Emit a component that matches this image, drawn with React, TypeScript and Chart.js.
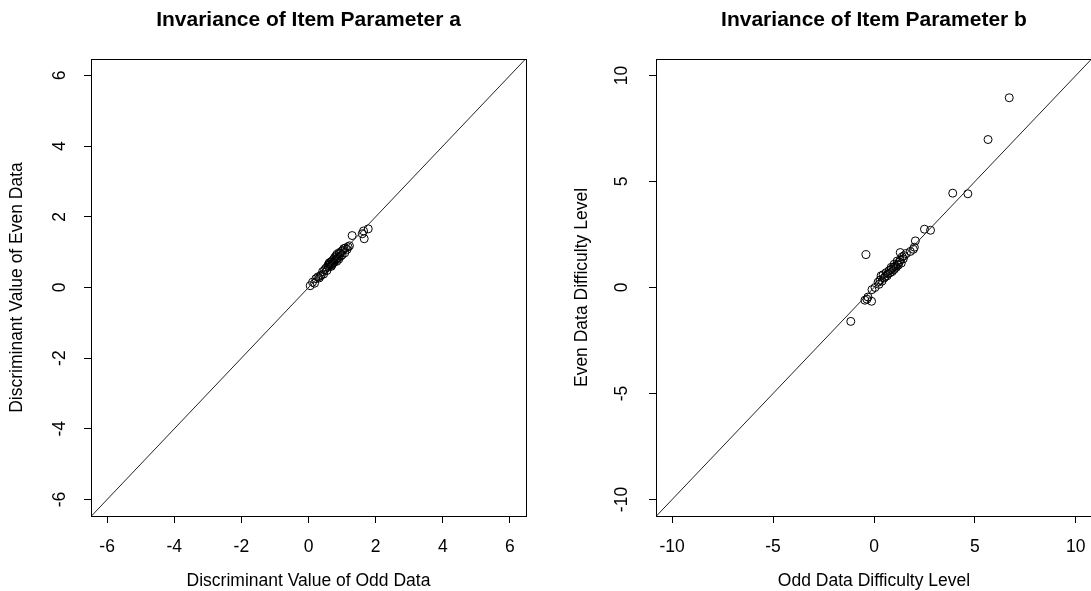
import React, { useEffect, useRef } from "react";
import { Chart, registerables } from "chart.js";

Chart.register(...registerables);

// Item discrimination (a) estimated on odd vs even halves of the sample
const oddA = [
  0.05, 0.12, 0.18, 0.22, 0.28, 0.32, 0.35, 0.38, 0.42, 0.45, 0.48, 0.52, 0.55, 0.58, 0.6, 0.6,
  0.62, 0.65, 0.66, 0.68, 0.7, 0.7, 0.72, 0.74, 0.75, 0.76, 0.78, 0.8, 0.82, 0.84, 0.84, 0.86,
  0.88, 0.9, 0.92, 0.94, 0.95, 0.98, 1.0, 1.02, 1.05, 1.08, 1.1, 1.15, 1.18, 1.22, 1.3, 1.6,
  1.64, 1.66, 1.78,
];
const evenA = [
  0.05, 0.15, 0.12, 0.25, 0.3, 0.27, 0.32, 0.35, 0.45, 0.38, 0.5, 0.55, 0.48, 0.62, 0.58, 0.66,
  0.7, 0.65, 0.72, 0.6, 0.75, 0.64, 0.68, 0.7, 0.8, 0.72, 0.85, 0.78, 0.9, 0.74, 0.82, 0.95,
  0.85, 0.8, 0.98, 0.96, 0.88, 1.02, 0.92, 1.05, 1.1, 0.98, 1.12, 1.08, 1.15, 1.18, 1.47, 1.52,
  1.6, 1.38, 1.66,
];

// Item difficulty (b) estimated on odd vs even halves of the sample
const oddB = [
  -1.15, -0.4, -0.45, -0.3, -0.12, -0.35, -0.1, 0.05, 0.2, 0.25, 0.3, 0.35, 0.4, 0.45, 0.5, 0.55,
  0.6, 0.65, 0.7, 0.75, 0.8, 0.85, 0.85, 0.9, 0.95, 1.0, 1.0, 1.05, 1.1, 1.15, 1.15, 1.2, 1.25,
  1.3, 1.35, 1.3, 1.4, 1.45, 1.5, 1.6, 1.8, 1.95, 2.0, 2.05, 2.5, 2.8, 3.9, 4.65, 5.65, 6.7,
];
const evenB = [
  -1.6, 1.55, -0.6, -0.45, -0.65, -0.55, -0.1, 0.0, 0.25, 0.15, 0.35, 0.55, 0.3, 0.6, 0.45, 0.5,
  0.7, 0.55, 0.65, 0.8, 0.7, 0.85, 0.95, 0.75, 0.95, 0.85, 1.1, 1.0, 0.95, 1.1, 1.25, 1.05, 1.2,
  1.3, 1.15, 1.65, 1.45, 1.35, 1.5, 1.6, 1.7, 1.8, 1.9, 2.2, 2.75, 2.7, 4.45, 4.42, 6.98, 8.95,
];

const ticksA = [-6, -4, -2, 0, 2, 4, 6];
const ticksB = [-10, -5, 0, 5, 10];

const FONT = "'Liberation Sans', Arial, Helvetica, sans-serif";

type PanelProps = {
  title: string;
  xTitle: string;
  yTitle: string;
  xs: number[];
  ys: number[];
  ticks: number[];
  limit: number;
  left: number;
  width: number;
  padRight: number;
  yTickPad: number;
};

// Frame around the plotting region plus a bold main title centred over it
const framePlugin = {
  id: "frameAndTitle",
  afterDatasetsDraw(chart: any, _args: any, opts: any) {
    const { ctx, chartArea } = chart;
    const l = Math.round(chartArea.left) + 0.5;
    const t = Math.round(chartArea.top) + 0.5;
    const r = Math.round(chartArea.right) + 0.5;
    const b = Math.round(chartArea.bottom) + 0.5;
    ctx.save();
    ctx.strokeStyle = "#000";
    ctx.lineWidth = 1;
    ctx.strokeRect(l, t, r - l, b - t);
    ctx.fillStyle = "#000";
    ctx.font = `bold 21px ${FONT}`;
    ctx.textAlign = "center";
    ctx.textBaseline = "middle";
    ctx.fillText(opts.text, (chartArea.left + chartArea.right) / 2, 20);
    ctx.restore();
  },
};

function Panel(p: PanelProps) {
  const ref = useRef<HTMLCanvasElement | null>(null);

  useEffect(() => {
    if (!ref.current) return;
    const points = p.xs.map((x, i) => ({ x, y: p.ys[i] }));
    const setTicks = (scale: any) => {
      scale.ticks = p.ticks.map((v) => ({ value: v }));
    };
    const tickFont = { family: FONT, size: 17.5 };
    const chart = new Chart(ref.current, {
      type: "scatter",
      data: {
        datasets: [
          {
            type: "line",
            data: [
              { x: -30, y: -30 },
              { x: 30, y: 30 },
            ],
            borderColor: "#222",
            borderWidth: 1,
            pointRadius: 0,
            fill: false,
          },
          {
            data: points,
            pointStyle: "circle",
            pointRadius: 4,
            pointBorderWidth: 1,
            borderColor: "#000",
            backgroundColor: "rgba(0,0,0,0)",
          },
        ],
      } as any,
      plugins: [framePlugin],
      options: {
        animation: false,
        responsive: false,
        devicePixelRatio: 1,
        layout: { padding: { top: 59, right: p.padRight, bottom: 0, left: 0 } },
        plugins: {
          legend: { display: false },
          tooltip: { enabled: false },
          frameAndTitle: { text: p.title },
        } as any,
        scales: {
          x: {
            type: "linear",
            min: -p.limit,
            max: p.limit,
            afterBuildTicks: setTicks,
            afterFit: (scale: any) => {
              scale.height = 75;
            },
            grid: {
              display: true,
              drawOnChartArea: false,
              drawTicks: true,
              tickLength: 7,
              color: "#000",
            },
            border: { display: false },
            ticks: {
              autoSkip: false,
              color: "#000",
              font: tickFont,
              padding: 13.5,
              maxRotation: 0,
              minRotation: 0,
            },
            title: {
              display: true,
              text: p.xTitle,
              color: "#000",
              font: { family: FONT, size: 17.5, lineHeight: 1 },
              padding: { top: 0, bottom: 1.5 },
            },
          },
          y: {
            type: "linear",
            min: -p.limit * 0.998,
            max: p.limit * 0.998,
            afterBuildTicks: setTicks,
            afterFit: (scale: any) => {
              scale.width = 91;
            },
            grid: {
              display: true,
              drawOnChartArea: false,
              drawTicks: true,
              tickLength: 7,
              color: "#000",
            },
            border: { display: false },
            ticks: {
              autoSkip: false,
              color: "#000",
              font: tickFont,
              padding: p.yTickPad,
              crossAlign: "center",
              minRotation: 90,
              maxRotation: 90,
            },
            title: {
              display: true,
              text: p.yTitle,
              color: "#000",
              font: { family: FONT, size: 17.5, lineHeight: 1 },
              padding: { top: 8, bottom: 0 },
            },
          },
        },
      } as any,
    });
    return () => chart.destroy();
  }, []);

  return (
    <canvas
      ref={ref}
      width={p.width}
      height={591}
      style={{ position: "absolute", left: p.left, top: 0, width: p.width, height: 591, display: "block" }}
    />
  );
}

export default function App() {
  return (
    <div
      style={{
        position: "fixed",
        left: 0,
        top: 0,
        width: 1091,
        height: 591,
        overflow: "hidden",
        background: "#fff",
      }}
    >
      <Panel
        title="Invariance of Item Parameter a"
        xTitle="Discriminant Value of Odd Data"
        yTitle="Discriminant Value of Even Data"
        xs={oddA}
        ys={evenA}
        ticks={ticksA}
        limit={6.48}
        left={0}
        width={545}
        padRight={19}
        yTickPad={16}
      />
      <Panel
        title="Invariance of Item Parameter b"
        xTitle="Odd Data Difficulty Level"
        yTitle="Even Data Difficulty Level"
        xs={oddB}
        ys={evenB}
        ticks={ticksB}
        limit={10.8}
        left={565}
        width={547}
        padRight={20}
        yTickPad={14.5}
      />
    </div>
  );
}
